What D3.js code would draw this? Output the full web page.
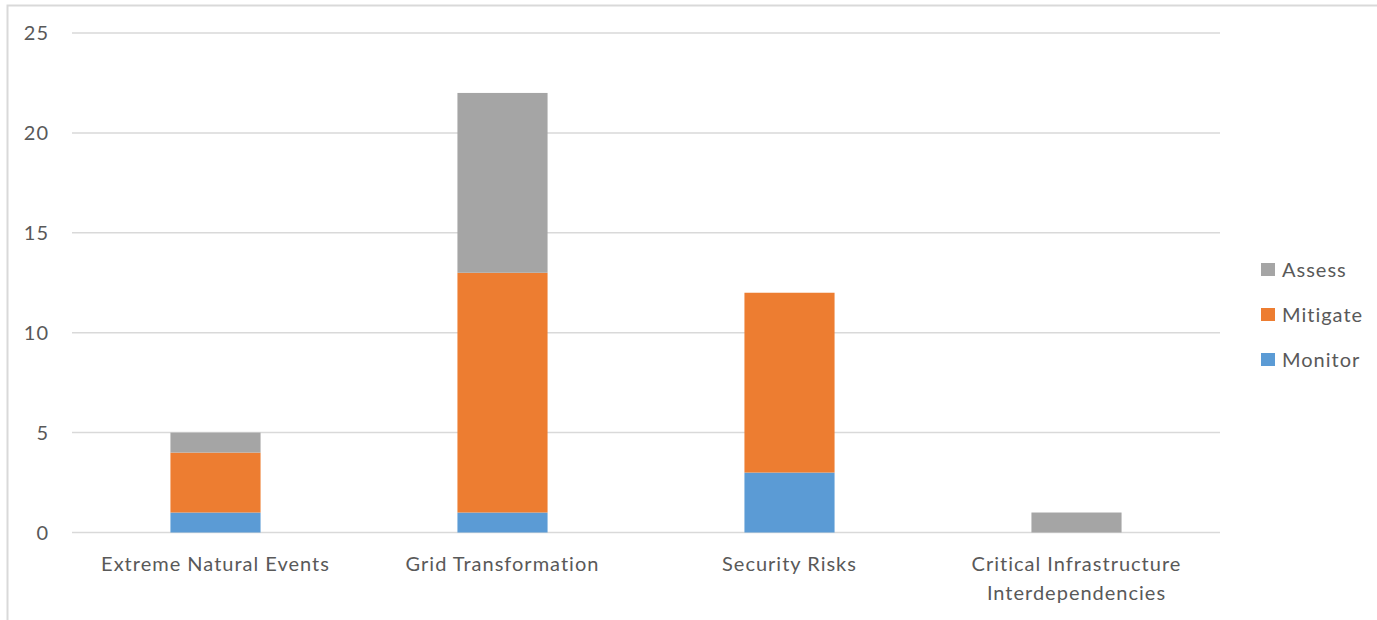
<!DOCTYPE html>
<html><head><meta charset="utf-8">
<script src="https://cdn.jsdelivr.net/npm/d3@7"></script>
<style>body{margin:0;background:#fff;} svg{display:block;}</style>
</head><body>
<svg id="c" width="1377" height="620"></svg>
<script>
const categories = [["Extreme Natural Events"],["Grid Transformation"],["Security Risks"],["Critical Infrastructure","Interdependencies"]];
const categoryKeys = ["Extreme Natural Events","Grid Transformation","Security Risks","Critical Infrastructure Interdependencies"];
const seriesNames = ["Monitor","Mitigate","Assess"];
const monitor = [1,1,3,0];
const mitigate = [3,12,9,0];
const assess = [1,9,0,1];
const yTicks = [0,5,10,15,20,25];
const colors = {"Monitor":"#5B9BD5","Mitigate":"#ED7D31","Assess":"#A5A5A5"};

const svg = d3.select("#c");
const font = "Lato, 'Open Sans', sans-serif";
svg.append("rect").attr("x",7.5).attr("y",5.5).attr("width",1400).attr("height",640)
  .attr("fill","none").attr("stroke","#D9D9D9").attr("stroke-width",2);

const x0 = 72, x1 = 1220;
const x = d3.scaleBand().domain(categoryKeys).range([x0,x1]).paddingInner(0.686).paddingOuter(0.343);
const y = d3.scaleLinear().domain([0,25]).range([532.5,33]);

svg.append("g").selectAll("line").data(yTicks).join("line")
  .attr("x1",x0).attr("x2",x1).attr("y1",d=>y(d)).attr("y2",d=>y(d))
  .attr("stroke","#D9D9D9").attr("stroke-width",1.5);
svg.append("g").selectAll("text").data(yTicks).join("text")
  .attr("x",49).attr("y",d=>y(d)).attr("dy","0.35em").attr("text-anchor","end")
  .attr("font-family",font).attr("font-size",20).attr("letter-spacing",1).attr("fill","#595959").text(d=>d);

const rows = categoryKeys.map((k,i)=>({key:k, Monitor:monitor[i], Mitigate:mitigate[i], Assess:assess[i]}));
const stack = d3.stack().keys(seriesNames)(rows);
svg.append("g").selectAll("g").data(stack).join("g").attr("fill",d=>colors[d.key])
  .selectAll("rect").data(d=>d.filter(p=>p[1]-p[0]>0)).join("rect")
  .attr("x",d=>x(d.data.key)).attr("width",x.bandwidth())
  .attr("y",d=>y(d[1])).attr("height",d=>y(d[0])-y(d[1]));

const lab = svg.append("g").selectAll("text").data(categoryKeys).join("text")
  .attr("x",d=>x(d)+x.bandwidth()/2).attr("y",571).attr("text-anchor","middle")
  .attr("font-family",font).attr("font-size",20).attr("letter-spacing",1).attr("fill","#595959");
lab.each(function(d,i){
  const t = d3.select(this);
  categories[i].forEach((line,j)=>{
    t.append("tspan").attr("x",x(d)+x.bandwidth()/2).attr("dy",j===0?0:28.5).text(line);
  });
});

const legendOrder = ["Assess","Mitigate","Monitor"];
const lg = svg.append("g").selectAll("g").data(legendOrder).join("g")
  .attr("transform",(d,i)=>`translate(1261,${263+i*45})`);
lg.append("rect").attr("width",14).attr("height",13).attr("fill",d=>colors[d]);
lg.append("text").attr("x",21).attr("y",6.5).attr("dy","0.35em")
  .attr("font-family",font).attr("font-size",20).attr("letter-spacing",1).attr("fill","#595959").text(d=>d);
</script>
</body></html>
